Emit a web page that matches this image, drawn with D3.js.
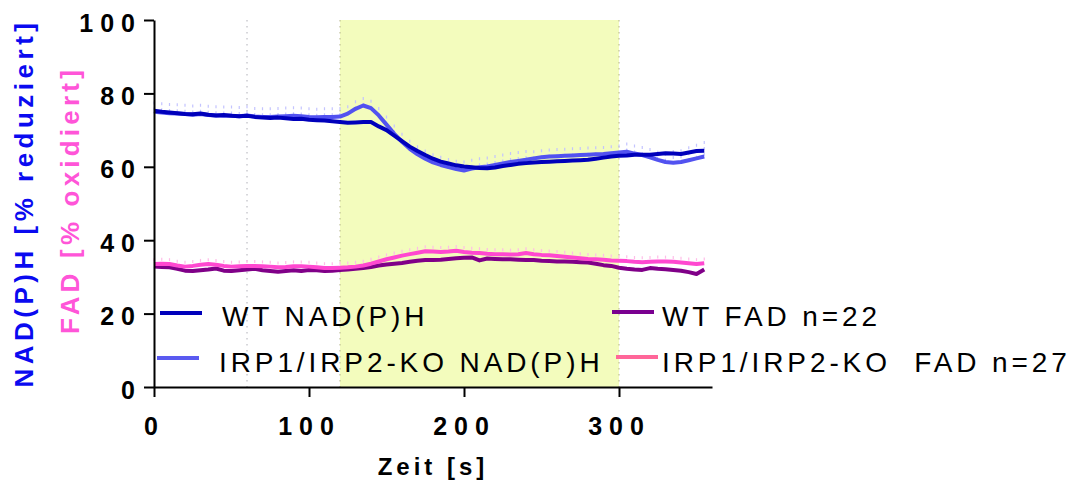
<!DOCTYPE html>
<html>
<head>
<meta charset="utf-8">
<script src="https://cdn.jsdelivr.net/npm/d3@7/dist/d3.min.js"></script>
<style>
    body { margin: 0; background: #fff; }
    text { font-family: "Liberation Sans", Arial, sans-serif; }
</style>
</head>
<body>
<div id="chart"></div>
<script>
    // time points [s]
    var zeit = [0, 5, 10, 15, 20, 25, 30, 35, 40, 45, 50, 55, 60, 65, 70, 75, 80, 85, 90, 95,
        100, 105, 110, 115, 120, 125, 130, 135, 140, 145, 150, 155, 160, 165, 170, 175, 180, 185, 190, 195,
        200, 205, 210, 215, 220, 225, 230, 235, 240, 245, 250, 255, 260, 265, 270, 275, 280, 285, 290, 295,
        300, 305, 310, 315, 320, 325, 330, 335, 340, 345, 350, 355];

    var wtNadph = [75.3, 75.0, 74.8, 74.6, 74.4, 74.3, 74.5, 74.2, 74.0, 74.1, 73.9, 73.8, 73.9, 73.6, 73.4, 73.3, 73.4, 73.2, 73.0, 73.1,
        72.8, 72.7, 72.6, 72.4, 72.2, 72.0, 72.1, 72.2, 72.2, 71.0, 70.0, 68.5, 67.0, 65.5, 64.3, 63.2, 62.2, 61.4, 60.9, 60.4,
        60.1, 59.9, 59.7, 59.6, 59.8, 60.2, 60.5, 60.8, 61.0, 61.2, 61.3, 61.4, 61.5, 61.6, 61.7, 61.8, 61.9, 62.2, 62.5, 62.8,
        63.0, 63.1, 63.3, 63.3, 63.3, 63.5, 63.7, 63.6, 63.5, 63.9, 64.3, 64.4];

    var koNadph = [75.0, 74.8, 74.6, 74.5, 74.4, 74.2, 74.4, 74.1, 74.0, 73.9, 73.9, 73.8, 74.0, 73.7, 73.6, 73.6, 73.7, 73.8, 73.9, 73.8,
        73.6, 73.5, 73.6, 73.6, 73.7, 74.5, 75.8, 76.7, 76.0, 74.0, 71.5, 69.0, 66.8, 64.9, 63.4, 62.2, 61.2, 60.5, 59.9, 59.4,
        59.0, 59.5, 59.9, 60.1, 60.5, 60.9, 61.3, 61.6, 61.9, 62.3, 62.6, 62.8, 62.9, 63.0, 63.1, 63.2, 63.3, 63.4, 63.5, 63.7,
        63.9, 64.1, 63.6, 63.2, 62.6, 61.9, 61.3, 61.1, 61.3, 61.8, 62.3, 62.8];

    var koNadphSem = [2.8, 2.8, 2.8, 2.8, 2.8, 2.8, 2.8, 2.8, 2.8, 2.8, 2.8, 2.8, 2.8, 2.6, 2.6, 2.6, 2.6, 2.6, 2.6, 2.6,
        2.6, 2.6, 2.6, 2.6, 2.6, 2.3, 2.3, 2.3, 2.3, 2.3, 2.5, 2.5, 2.5, 2.5, 2.5, 2.5, 2.5, 2.5, 2.5, 2.5,
        2.7, 2.7, 2.7, 2.7, 2.7, 2.7, 2.7, 2.7, 2.7, 2.2, 2.2, 2.2, 2.2, 2.2, 2.2, 2.2, 2.2, 2.2, 2.2, 2.2,
        2.2, 2.5, 2.5, 2.5, 2.5, 2.5, 2.5, 3.5, 3.5, 3.8, 4.0, 4.2];

    var wtFad = [32.8, 32.7, 32.6, 32.2, 31.7, 31.6, 31.8, 32.0, 32.3, 31.7, 31.6, 31.8, 32.0, 32.2, 31.8, 31.6, 31.4, 31.6, 31.8, 31.6,
        31.9, 31.8, 31.6, 31.7, 31.9, 32.0, 32.2, 32.4, 32.7, 33.1, 33.4, 33.6, 33.8, 34.1, 34.4, 34.6, 34.6, 34.7, 34.9, 35.1,
        35.2, 35.3, 34.5, 35.0, 34.9, 34.8, 34.8, 34.7, 34.6, 34.6, 34.4, 34.3, 34.2, 34.2, 34.1, 34.0, 33.9, 33.6, 33.2, 33.0,
        32.5, 32.2, 32.0, 31.9, 32.4, 32.2, 32.1, 31.9, 31.7, 31.3, 30.8, 32.0];

    var koFad = [33.5, 33.6, 33.5, 33.1, 32.8, 33.0, 33.3, 33.5, 33.3, 33.0, 32.8, 32.9, 33.0, 33.0, 32.9, 32.8, 32.6, 32.7, 32.9, 32.9,
        32.8, 32.6, 32.4, 32.4, 32.5, 32.6, 32.8, 33.1, 33.6, 34.2, 34.8, 35.3, 35.8, 36.2, 36.6, 37.0, 36.9, 36.8, 36.9, 37.1,
        36.8, 36.6, 36.5, 36.3, 36.2, 36.2, 36.1, 36.2, 36.5, 36.2, 36.0, 35.9, 35.7, 35.5, 35.3, 35.1, 34.9, 34.8, 34.7, 34.5,
        34.4, 34.3, 34.1, 34.0, 34.1, 34.2, 34.2, 34.1, 33.9, 33.7, 33.5, 33.7];

    var koFadSem = [1.6, 1.6, 1.6, 1.6, 1.6, 1.6, 1.6, 1.6, 1.6, 1.6, 1.6, 1.6, 1.6, 1.6, 1.6, 1.6, 1.6, 1.6, 1.6, 1.6,
        1.6, 1.6, 1.6, 1.6, 1.6, 1.6, 1.6, 1.6, 1.6, 1.6, 1.6, 1.6, 1.6, 1.6, 1.6, 1.6, 1.6, 1.6, 1.6, 1.6,
        1.6, 1.6, 1.6, 1.6, 1.6, 1.6, 1.6, 1.6, 1.6, 1.6, 1.6, 1.6, 1.6, 1.6, 1.6, 1.6, 1.6, 1.6, 1.6, 1.6,
        1.6, 1.6, 1.6, 1.6, 1.6, 1.6, 1.6, 1.6, 1.6, 1.6, 1.6, 1.6];

    var xTicks = [0, 100, 200, 300];
    var yTicks = [0, 20, 40, 60, 80, 100];
    var stimulus = [120, 300];   // shaded period [s]
    var markerZeit = [60];       // dotted line

    var legendLabels = ["WT NAD(P)H", "IRP1/IRP2-KO NAD(P)H", "WT FAD n=22", "IRP1/IRP2-KO  FAD n=27"];

    var W = 1083, H = 483;
    var svg = d3.select('#chart').append('svg').attr('width', W).attr('height', H);

    var x = d3.scaleLinear().domain([0, 360]).range([154, 712]);
    var y = d3.scaleLinear().domain([0, 100]).range([387, 20]);

    // shaded stimulus
    svg.append('rect')
        .attr('x', x(stimulus[0])).attr('y', y(100))
        .attr('width', x(stimulus[1]) - x(stimulus[0]))
        .attr('height', y(0) - y(100))
        .attr('fill', '#f3fcbd');

    svg.selectAll('line.edge').data(stimulus).enter().append('line')
        .attr('class', 'edge')
        .attr('x1', function (d) { return x(d) }).attr('x2', function (d) { return x(d) })
        .attr('y1', y(100)).attr('y2', y(0))
        .attr('stroke', '#b4b48c').attr('stroke-width', 1).attr('stroke-dasharray', '1.5,4.5');

    svg.selectAll('line.marker').data(markerZeit).enter().append('line')
        .attr('class', 'marker')
        .attr('x1', function (d) { return x(d) }).attr('x2', function (d) { return x(d) })
        .attr('y1', y(100)).attr('y2', y(0))
        .attr('stroke', '#b0b0b8').attr('stroke-width', 1).attr('stroke-dasharray', '1.5,4.5');

    // upper error bars (drawn from top down, dashed so they look dotted)
    var errbars = function (vals, sem, col) {
        svg.append('g').selectAll('line').data(zeit).enter().append('line')
            .attr('x1', function (d) { return x(d) }).attr('x2', function (d) { return x(d) })
            .attr('y1', function (d, i) { return y(vals[i] + sem[i]) })
            .attr('y2', function (d, i) { return y(vals[i]) })
            .attr('stroke', col).attr('stroke-width', 1.2)
            .attr('stroke-dasharray', '3,3');
    };
    errbars(koNadph, koNadphSem, '#c4c4ff');
    errbars(koFad, koFadSem, '#ffbce8');

    var line = function (vals) {
        return d3.line()
            .x(function (d) { return x(d) })
            .y(function (d, i) { return y(vals[i]) })(zeit);
    };

    var series = [
        { v: koNadph, c: '#5252f0' },
        { v: wtNadph, c: '#0000bb' },
        { v: wtFad, c: '#800088' },
        { v: koFad, c: '#ff48d0' }
    ];
    series.forEach(function (s) {
        svg.append('path').attr('d', line(s.v))
            .attr('fill', 'none').attr('stroke', s.c)
            .attr('stroke-width', 4).attr('stroke-linejoin', 'round');
    });

    // axes
    var yAxis = svg.append('g').attr('transform', 'translate(154,0)')
        .call(d3.axisLeft(y).tickValues(yTicks).tickSize(10).tickSizeOuter(0).tickPadding(2));
    var xAxis = svg.append('g').attr('transform', 'translate(0,387)')
        .call(d3.axisBottom(x).tickValues(xTicks).tickSize(10).tickSizeOuter(0).tickPadding(20));

    [xAxis, yAxis].forEach(function (a) {
        a.selectAll('path, line').attr('stroke', '#000').attr('stroke-width', 2);
        a.selectAll('text')
            .attr('font-family', '"Liberation Sans", Arial, sans-serif')
            .attr('font-size', 25).attr('font-weight', 'bold')
            .attr('letter-spacing', 7).attr('fill', '#000');
    });
    yAxis.selectAll('text').attr('dy', '0.44em');

    // axis titles
    svg.append('text')
        .attr('transform', 'translate(33,203) rotate(-90)')
        .attr('text-anchor', 'middle')
        .attr('font-size', 26).attr('font-weight', 'bold').attr('letter-spacing', 4.5)
        .attr('fill', '#0a0af0')
        .text('NAD(P)H [% reduziert]');
    svg.append('text')
        .attr('transform', 'translate(79,200) rotate(-90)')
        .attr('text-anchor', 'middle')
        .attr('font-size', 26).attr('font-weight', 'bold').attr('letter-spacing', 4.2)
        .attr('fill', '#ff55d8')
        .text('FAD [% oxidiert]');
    svg.append('text')
        .attr('x', 433).attr('y', 475)
        .attr('text-anchor', 'middle')
        .attr('font-size', 24).attr('font-weight', 'bold').attr('letter-spacing', 4)
        .text('Zeit [s]');

    // legend
    var legendPos = [
        { lx: 160, ly: 313, tx: 222, ty: 326, c: '#0000bb' },
        { lx: 157, ly: 358, tx: 219, ty: 372, c: '#5a5af0' },
        { lx: 612, ly: 312, tx: 662, ty: 326, c: '#7a0090' },
        { lx: 616, ly: 357, tx: 662, ty: 372, c: '#ff6699' }
    ];
    var leg = svg.append('g').selectAll('g').data(legendLabels).enter().append('g');
    leg.append('line')
        .attr('x1', function (d, i) { return legendPos[i].lx })
        .attr('x2', function (d, i) { return legendPos[i].lx + 42 })
        .attr('y1', function (d, i) { return legendPos[i].ly })
        .attr('y2', function (d, i) { return legendPos[i].ly })
        .attr('stroke', function (d, i) { return legendPos[i].c })
        .attr('stroke-width', 4);
    leg.append('text')
        .attr('x', function (d, i) { return legendPos[i].tx })
        .attr('y', function (d, i) { return legendPos[i].ty })
        .attr('font-size', 28).attr('letter-spacing', 3.9).attr('fill', '#000')
        .attr('xml:space', 'preserve').style('white-space', 'pre')
        .text(function (d) { return d });
</script>
</body>
</html>
